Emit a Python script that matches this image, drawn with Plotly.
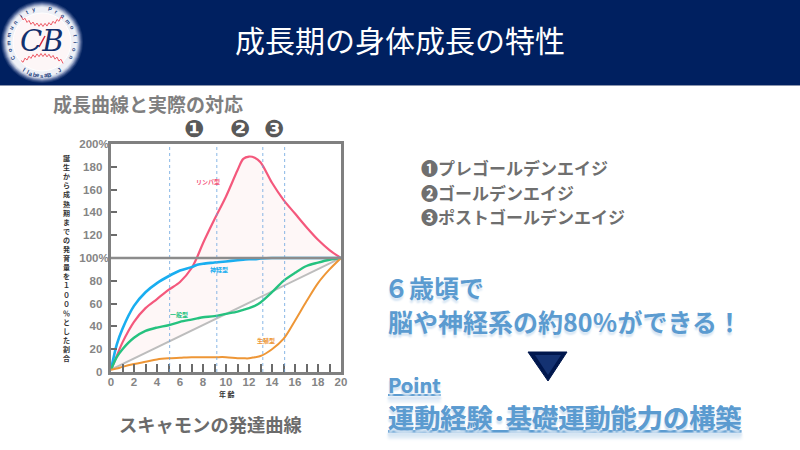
import math
import plotly.graph_objects as go

W, H = 800, 450
FONT = "Noto Sans CJK JP"

ages = [0, 0.5, 1, 2, 3, 4, 5, 6, 7, 7.5, 8, 9, 10, 11, 11.5, 12, 12.5, 13, 14, 15, 16, 17, 18, 19, 20]
lymphoid = [2, 14, 26, 44, 56, 64, 72, 79, 91, 101, 113, 134, 154, 177, 187, 189, 188, 184, 166, 151, 139, 127, 116, 107, 100]
neural = [2, 24, 38, 58, 70, 78, 84, 89, 92, 94, 95, 96, 97, 98, 98.5, 99, 99, 99.5, 100, 100, 100, 100, 100, 100, 100]
general = [2, 13, 20, 30, 36, 39, 41, 44, 46, 47, 48, 49, 51, 53, 54.5, 56, 58, 61, 70, 80, 87, 93, 96, 98.5, 100]
genital = [2, 3, 4.5, 7, 9, 11, 12, 12.5, 13, 13, 13, 13, 13, 12, 12, 12, 13, 14, 20, 29, 45, 62, 78, 90, 100]
baseline_x = [0, 20]
baseline_y = [2, 100]
stage_lines = [5.1, 9.2, 13.2, 15.1]
x_ticks = list(range(0, 21))
x_labels = [str(v) if v % 2 == 0 else "" for v in x_ticks]
y_ticks = [0, 20, 40, 60, 80, 100, 120, 140, 160, 180, 200]
y_labels = ["0\u00a0\u00a0", "20\u00a0\u00a0", "40\u00a0\u00a0", "60\u00a0\u00a0", "80\u00a0\u00a0", "100%",
            "120\u00a0\u00a0", "140\u00a0\u00a0", "160\u00a0\u00a0", "180\u00a0\u00a0", "200%"]


def px(x):
    return x / W


def py(y):
    return 1 - y / H


fig = go.Figure()
fig.add_trace(go.Scatter(x=baseline_x, y=baseline_y, mode="lines", line=dict(color="#bdbdbd", width=2), hoverinfo="skip"))
fig.add_trace(go.Scatter(x=ages, y=lymphoid, mode="lines", line=dict(color="#f4587c", width=2.2, shape="spline", smoothing=0.9),
                         fill="tonexty", fillcolor="rgba(250,225,228,0.28)"))
fig.add_trace(go.Scatter(x=ages, y=neural, mode="lines", line=dict(color="#19aef0", width=2.6, shape="spline", smoothing=0.9)))
fig.add_trace(go.Scatter(x=ages, y=general, mode="lines", line=dict(color="#25c27f", width=2.4, shape="spline", smoothing=0.9)))
fig.add_trace(go.Scatter(x=ages, y=genital, mode="lines", line=dict(color="#ee9636", width=2, shape="spline", smoothing=0.9)))

shapes = []
shapes.append(dict(type="rect", xref="paper", yref="paper", x0=0, x1=1, y0=py(85), y1=1, fillcolor="#002060", line_width=0, layer="below"))
shapes.append(dict(type="line", xref="paper", yref="paper", x0=0, x1=1, y0=py(85.5), y1=py(85.5), line=dict(color="#8a94ad", width=1), layer="below"))


def circle(cx, cy, r, fill, line=None, lw=0):
    return dict(type="circle", xref="paper", yref="paper", x0=px(cx - r), x1=px(cx + r), y0=py(cy + r), y1=py(cy - r),
                fillcolor=fill, line=dict(color=line or fill, width=lw))


CX, CY = 42, 42
for r, c in [(41, "#1a3770"), (40, "#3a5289"), (39, "#6578a5"), (38, "#8f9dc0"), (37, "#b9c3d9"), (36, "#d9dfeb"), (35, "#eef0f6")]:
    shapes.append(circle(CX, CY, r, c))
shapes.append(circle(CX, CY, 29, "#fdf6f7", "#ffffff", 1))


def stitches(y_base, bend, offset):
    pts = []
    n = 21
    for i in range(n + 1):
        t = i / n
        x = CX - 21 + 42 * t
        y = y_base + bend * (1 - (2 * t - 1) ** 2) + (offset if i % 2 else -offset)
        pts.append(("M" if i == 0 else "L") + f"{px(x):.4f},{py(y):.4f}")
    return dict(type="path", xref="paper", yref="paper", path=" ".join(pts), line=dict(color="#ee5a66", width=1))


shapes.append(stitches(17, 8, 1.5))
shapes.append(stitches(62, -7, 1.5))
shapes.append(dict(type="line", xref="paper", yref="paper", x0=px(39), x1=px(45), y0=py(47), y1=py(36), line=dict(color="#d8263a", width=1.5)))

for v in stage_lines:
    shapes.append(dict(type="line", xref="x", yref="y", x0=v, x1=v, y0=0, y1=200, line=dict(color="#6aa5e0", width=0.8, dash="dot")))
shapes.append(dict(type="line", xref="x", yref="y", x0=0, x1=20, y0=100, y1=100, line=dict(color="#8c8c8c", width=2.4)))

shapes.append(dict(type="path", xref="paper", yref="paper",
                   path=f"M{px(528)},{py(352)} L{px(567)},{py(352)} L{px(548)},{py(381)} Z",
                   fillcolor="#00174d", line=dict(color="#00174d", width=1)))
shapes.append(dict(type="path", xref="paper", yref="paper",
                   path=f"M{px(535)},{py(355)} L{px(561)},{py(355)} L{px(548)},{py(375)} Z",
                   fillcolor="#143272", line_width=0))

ann = []


def text(x, y, s, size, color, anchor="left", bold=True, family=FONT, **kw):
    ann.append(dict(xref="paper", yref="paper", x=px(x), y=py(y), text=s, showarrow=False, xanchor=anchor, yanchor="middle",
                    font=dict(size=size, color=color, family=family, weight=700 if bold else 400), **kw))


text(400, 39, "成長期の身体成長の特性", 30, "#ffffff", "center", bold=False)
text(CX, CY - 1, "<i>CB</i>", 29, "#12306e", "center", bold=False, family="DejaVu Serif")
ring = "Community Promotion"
for i, ch in enumerate(ring):
    ang = -118 + i * (236 / (len(ring) - 1))
    rad = math.radians(ang)
    text(CX + 33.5 * math.sin(rad), CY - 33.5 * math.cos(rad), ch, 5.5, "#1c3f80", "center", family="Liberation Sans", textangle=ang)
bottom = "J. Baseball"
for i, ch in enumerate(bottom):
    ang = 32 - i * 6.4
    rad = math.radians(ang)
    text(CX + 33.5 * math.sin(rad), CY + 33.5 * math.cos(rad), ch, 6, "#1c3f80", "center", family="Liberation Sans", textangle=-ang)

text(51, 104, "成長曲線と実際の対応", 19, "#7f7f7f")
text(117, 424, "スキャモンの発達曲線", 18.3, "#6b6b6b")
for x, s in [(194, "❶"), (240, "❷"), (274, "❸")]:
    text(x, 129, s, 24, "#595959", "center", family="DejaVu Sans")
ann.append(dict(xref="paper", yref="paper", x=px(66), y=py(258), showarrow=False, xanchor="center", yanchor="middle",
                text="<br>".join("誕生から成熟期までの発育量を１００％とした割合"),
                font=dict(size=7, color="#333333", family=FONT, weight=700)))
text(227, 394, "年 齢", 7, "#333333", "center")

text(208, 181, "リンパ型", 6, "#f4587c", "center")
text(219, 269, "神経型", 6, "#19aef0", "center")
text(179, 314, "一般型", 6, "#25c27f", "center")
text(266, 340, "生殖型", 6, "#ee9636", "center")

for y, s in [(168, "❶プレゴールデンエイジ"), (192, "❷ゴールデンエイジ"), (216, "❸ポストゴールデンエイジ")]:
    text(419, y, s, 17, "#6f6f6f")

BLUE = "#5b9bd0"
SH = "0px 3px 2px #d6e5f3"
for x, y, s, size in [(382, 287, "６歳頃で", 25),
                      (386, 321, "脳や神経系の約80％ができる！", 25),
                      (386, 384, "<u>Point</u>", 20),
                      (386, 417, "<u>運動経験･基礎運動能力の構築</u>", 26.2)]:
    ann.append(dict(xref="paper", yref="paper", x=px(x), y=py(y), text=s, showarrow=False, xanchor="left", yanchor="middle",
                    font=dict(size=size, color=BLUE, family=FONT, weight=700, shadow=SH)))

tick_font = dict(size=11.5, color="#858585", family="Liberation Sans", weight=700)
fig.update_layout(
    width=W, height=H, autosize=False, showlegend=False,
    paper_bgcolor="#ffffff", plot_bgcolor="#ffffff",
    margin=dict(l=0, r=0, t=0, b=0, pad=0, autoexpand=False),
    shapes=shapes, annotations=ann,
    xaxis=dict(domain=[px(111), px(341)], range=[0, 20], showgrid=False, zeroline=False, automargin=False,
               tickmode="array", tickvals=x_ticks, ticktext=x_labels, ticks="inside", ticklen=8, tickcolor="#6b6b6b", tickwidth=1.6,
               ticklabelstandoff=-3, showline=True, linecolor="#808080", linewidth=3, mirror=True, tickfont=tick_font),
    yaxis=dict(domain=[py(372), py(144)], range=[0, 200], showgrid=False, zeroline=False, automargin=False,
               tickmode="array", tickvals=y_ticks, ticktext=y_labels, ticks="inside", ticklen=6, tickcolor="#6b6b6b", tickwidth=1.6,
               ticklabelstandoff=-3, showline=True, linecolor="#808080", linewidth=3, mirror=True, tickfont=tick_font),
)
fig.write_html("out.html", config={"displayModeBar": False},
               post_script="document.body.style.margin='0';document.documentElement.style.overflow='hidden';")
